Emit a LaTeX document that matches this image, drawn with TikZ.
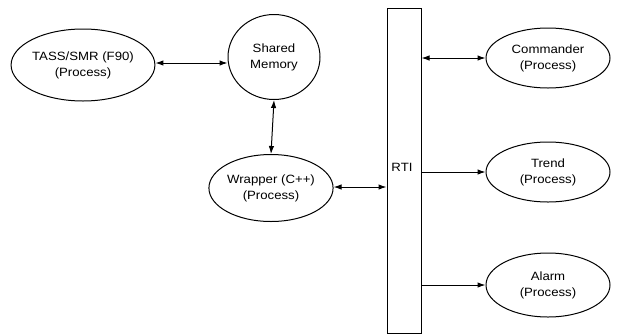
\documentclass[tikz,border=0pt]{standalone}
\usepackage{fontspec}
\setmainfont[FakeStretch=1.1]{Liberation Sans}
\usetikzlibrary{arrows.meta,shapes.geometric}
\begin{document}
\begin{tikzpicture}[x=1pt,y=-1pt,
  proc/.style={draw,ellipse,line width=1pt,inner sep=0pt,align=center,
    font=\fontsize{12}{16}\selectfont},
  conn/.style={line width=1pt,{Latex[length=8pt,width=5.5pt]}-{Latex[length=8pt,width=5.5pt]}},
  oneway/.style={line width=1pt,-{Latex[length=8pt,width=5.5pt]}}]
\useasboundingbox (0,0) rectangle (617,335);
\node[proc,minimum width=140pt,minimum height=72pt] (tass) at (83,65) {TASS/SMR (F90)\\(Process)};
\node[proc,minimum width=92pt,minimum height=85pt] (shm) at (274,57) {Shared\\Memory};
\node[proc,minimum width=117pt,minimum height=67pt] (wrap) at (271,188) {Wrapper (C++)\\(Process)};
\node[draw,line width=1pt,minimum width=34pt,minimum height=325pt,inner sep=0pt] (rti) at (404,170.5) {};
\node[font=\fontsize{12}{16}\selectfont] (rtil) at (402,167) {RTI};
\node[proc,minimum width=124pt,minimum height=60pt] (cmd) at (548,58) {Commander\\(Process)};
\node[proc,minimum width=124pt,minimum height=60pt] (trend) at (548,172) {Trend\\(Process)};
\node[proc,minimum width=124pt,minimum height=64pt] (alarm) at (548,285) {Alarm\\(Process)};
\draw[conn] (tass.east |- 0,63) -- (shm.west |- 0,63);
\draw[conn] (shm.south) -- (wrap.north);
\draw[conn] (wrap.east |- 0,187) -- (rti.west |- 0,187);
\draw[conn] (rti.east |- cmd.west) -- (cmd.west);
\draw[oneway] (rti.east |- trend.west) -- (trend.west);
\draw[oneway] (rti.east |- alarm.west) -- (alarm.west);
\end{tikzpicture}
\end{document}
